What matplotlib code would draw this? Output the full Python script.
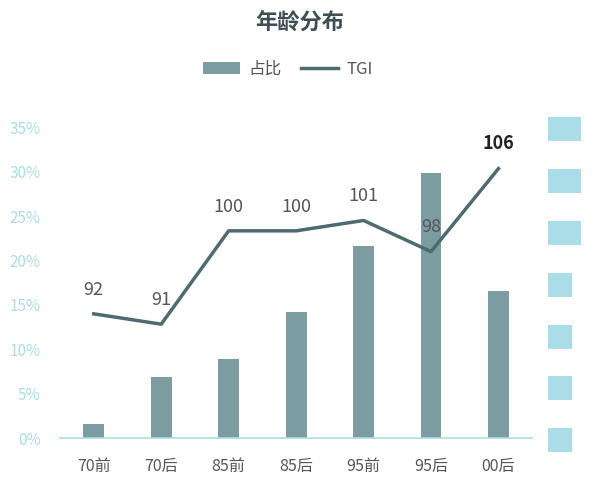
import matplotlib
matplotlib.use("Agg")
import matplotlib.pyplot as plt
from matplotlib.ticker import PercentFormatter

plt.rcParams['font.family'] = ['Noto Sans CJK SC', 'DejaVu Sans']

categories = ["70前", "70后", "85前", "85后", "95前", "95后", "00后"]
share = [1.6, 6.9, 8.9, 14.2, 21.6, 29.8, 16.6]
tgi = [92, 91, 100, 100, 101, 98, 106]
right_ticks = [80, 85, 90, 95, 100, 105, 110]

bar_color = "#7b9da2"
line_color = "#4e6b71"
axis_blue = "#aadde7"

fig = plt.figure(figsize=(6, 4.87), dpi=100)
ax = fig.add_axes([0.1, 0.1, 0.787, 0.639])
x = list(range(len(categories)))
ax.bar(x, share, width=0.31, color=bar_color, zorder=2)
ax.set_xlim(-0.5, len(categories) - 0.5)
ax.set_ylim(0, 35)
ax.set_yticks([0, 5, 10, 15, 20, 25, 30, 35])
ax.yaxis.set_major_formatter(PercentFormatter(decimals=0))
ax.set_xticks(x)
ax.set_xticklabels(categories, fontsize=11.5, color="#555555")
ax.tick_params(axis="y", length=0, labelsize=11, labelcolor=axis_blue, pad=14)
ax.tick_params(axis="x", length=0, pad=14)
for s in ["top", "right", "left"]:
    ax.spines[s].set_visible(False)
ax.spines["bottom"].set_color(axis_blue)
ax.spines["bottom"].set_linewidth(1.2)

ax2 = ax.twinx()
ax2.plot(x, tgi, color=line_color, linewidth=2.5, zorder=3)
ax2.set_ylim(80, 110)
ax2.set_yticks(right_ticks)
ax2.set_yticklabels([str(v) for v in right_ticks])
ax2.tick_params(axis="y", length=0, pad=14, labelsize=11, labelcolor=axis_blue)
for lbl in ax2.get_yticklabels():
    lbl.set_bbox(dict(facecolor=axis_blue, edgecolor="none", pad=2.5))
for s in ax2.spines.values():
    s.set_visible(False)

for i, v in enumerate(tgi):
    last = i == len(tgi) - 1
    ax2.annotate(str(v), (i, v), xytext=(0, 11), textcoords="offset points",
                 ha="center", va="bottom", fontsize=13,
                 color="#222222" if last else "#555555",
                 fontweight="bold" if last else "normal")

fig.text(0.5, 0.955, "年龄分布", ha="center", va="center", fontsize=16,
         fontweight="bold", color="#3d4f55")

h1 = ax.patches[0]
h2 = ax2.lines[0]
fig.legend([h1, h2], ["占比", "TGI"], loc="center", bbox_to_anchor=(0.48, 0.858),
           ncol=2, frameon=False, fontsize=12, handlelength=2.2, columnspacing=1.2,
           handletextpad=0.5, labelcolor="#555555")

fig.savefig("out.png", dpi=100)
